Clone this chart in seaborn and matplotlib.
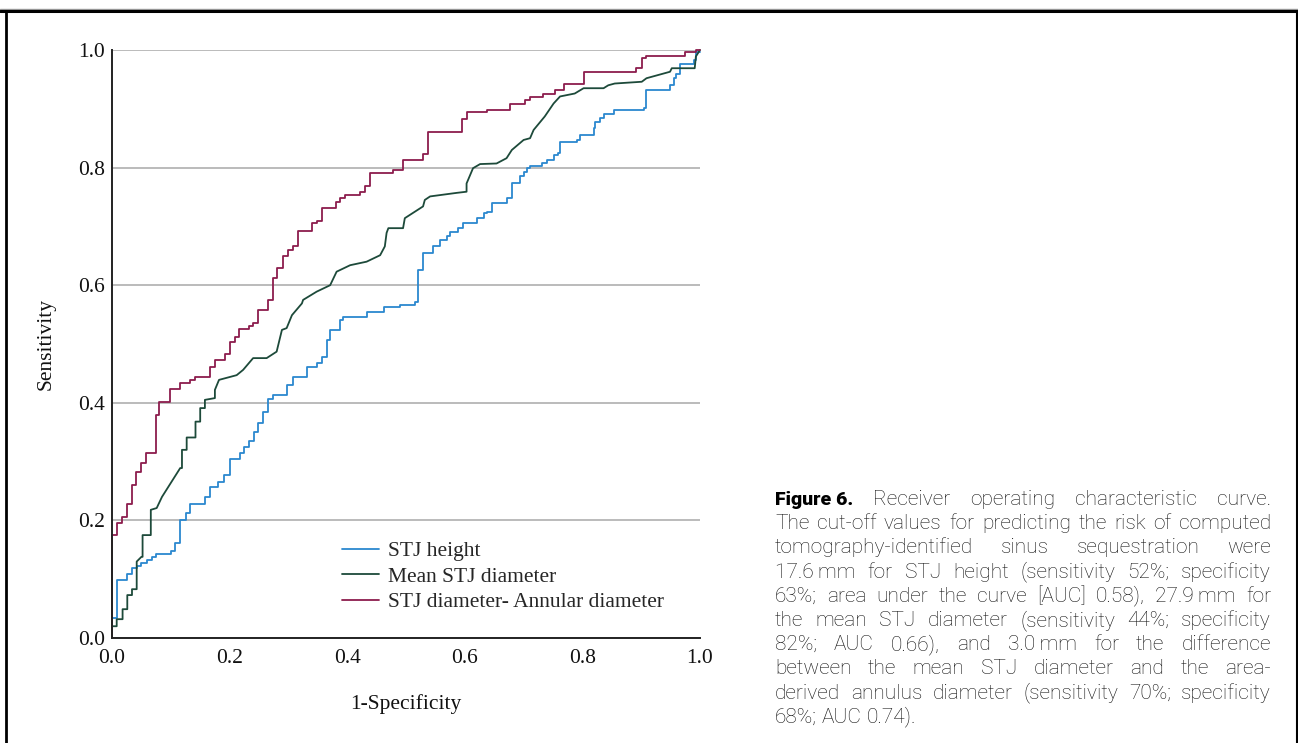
import pandas as pd
import numpy as np
import matplotlib
matplotlib.use('Agg')
import matplotlib.pyplot as plt
from matplotlib.lines import Line2D
import seaborn as sns

# ROC data
# STJ height: fpr where the curve steps up, tpr after each step
height_fpr = [0, .008, .025, .034, .042, .050, .059, .068, .075, .100, .107, .116, .126, .133,
              .158, .166, .181, .190, .200, .217, .224, .233, .241, .249, .257, .265, .274,
              .297, .307, .331, .348, .357, .365, .371, .388, .393, .433, .463, .489, .515,
              .521, .529, .546, .558, .569, .575, .589, .597, .620, .632, .637, .646, .671,
              .680, .694, .700, .705, .711, .731, .739, .751, .759, .762, .790, .796, .819,
              .821, .830, .836, .853, .904, .909, .949, .955, .960, .966, .989, .994]
height_tpr = [.034, .099, .109, .119, .122, .128, .133, .138, .143, .148, .161, .201, .212, .228,
              .240, .256, .266, .277, .304, .315, .325, .335, .351, .365, .385, .406, .413,
              .430, .444, .461, .467, .478, .507, .524, .541, .546, .555, .563, .567, .572,
              .626, .654, .666, .677, .683, .691, .697, .705, .714, .722, .725, .739, .748,
              .773, .785, .793, .799, .803, .807, .813, .821, .824, .844, .847, .855, .867,
              .878, .884, .892, .898, .901, .932, .940, .952, .960, .977, .983, .997]

# Mean STJ diameter: curve vertices (has sloped parts)
mean_fpr = [0, 0, .008, .008, .018, .018, .026, .026, .034, .034, .042, .042, .050, .052, .052,
            .066, .066, .076, .085, .116, .119, .119, .127, .127, .142, .142, .150, .150,
            .158, .158, .175, .175, .182, .212, .223, .240, .263, .280, .289, .297, .306,
            .323, .325, .348, .371, .382, .405, .433, .456, .464, .467, .470, .495, .498,
            .529, .532, .541, .586, .603, .603, .614, .626, .654, .671, .680, .700, .711,
            .717, .736, .751, .762, .787, .802, .836, .844, .855, .901, .909, .949, .952,
            .991, .993, 1.0]
mean_tpr = [0, .020, .020, .032, .032, .049, .049, .073, .073, .083, .083, .130, .138, .138, .175,
            .175, .218, .221, .240, .289, .289, .320, .320, .341, .341, .368, .368, .391,
            .391, .405, .408, .422, .439, .447, .456, .476, .476, .487, .524, .527, .549,
            .569, .575, .589, .600, .623, .634, .640, .651, .666, .689, .697, .697, .714,
            .734, .745, .751, .757, .759, .773, .799, .806, .807, .816, .830, .847, .850,
            .864, .887, .909, .921, .926, .935, .935, .940, .943, .946, .952, .963, .969,
            .969, .989, 1.0]

# STJ diameter - annular diameter: step positions and tpr after each step
diff_fpr = [0, .008, .017, .025, .034, .041, .049, .058, .075, .080, .099, .116, .133, .142,
            .167, .175, .192, .200, .209, .216, .233, .240, .249, .266, .273, .280, .290,
            .299, .307, .316, .340, .348, .357, .381, .388, .396, .422, .430, .439, .478,
            .495, .529, .537, .595, .603, .637, .677, .702, .711, .733, .753, .769, .803,
            .892, .902, .909, .974, .994]
diff_tpr = [.175, .196, .206, .228, .260, .283, .298, .315, .379, .402, .423, .434, .439, .444,
            .461, .472, .483, .504, .512, .525, .531, .536, .558, .575, .612, .629, .649,
            .660, .667, .693, .706, .710, .731, .742, .749, .753, .759, .769, .790, .796,
            .813, .823, .861, .883, .894, .898, .909, .915, .920, .926, .932, .942, .963,
            .969, .986, .990, .996, 1.0]

curve_names = ['STJ height', 'Mean STJ diameter', 'STJ diameter- Annular diameter']
curve_colors = ['#2b88cf', '#1d4a3a', '#8c1d4d']
ticks = [0.0, 0.2, 0.4, 0.6, 0.8, 1.0]

caption_lines = [
    'Figure~6. Receiver operating characteristic curve.',
    'The cut-off values for predicting the risk of computed',
    'tomography-identified sinus sequestration were',
    '17.6\u2009mm for STJ height (sensitivity 52%; specificity',
    '63%; area under the curve [AUC] 0.58), 27.9\u2009mm for',
    'the mean STJ diameter (sensitivity 44%; specificity',
    '82%; AUC 0.66), and 3.0\u2009mm for the difference',
    'between the mean STJ diameter and the area-',
    'derived annulus diameter (sensitivity 70%; specificity',
    '68%; AUC 0.74).',
]


def stairs(xs, ys):
    # turn step points into a staircase polyline from (0,0) to (1,1)
    px, py = [0.0], [0.0]
    for x, y in zip(xs, ys):
        px += [x, x]
        py += [py[-1], y]
    px.append(1.0)
    py.append(py[-1])
    return px, py


hx, hy = stairs(height_fpr, height_tpr)
dx, dy = stairs(diff_fpr, diff_tpr)
df = pd.concat([
    pd.DataFrame({'fpr': hx, 'tpr': hy, 'curve': curve_names[0]}),
    pd.DataFrame({'fpr': mean_fpr, 'tpr': mean_tpr, 'curve': curve_names[1]}),
    pd.DataFrame({'fpr': dx, 'tpr': dy, 'curve': curve_names[2]}),
], ignore_index=True)

sns.set_theme(style='white')
plt.rcParams['font.family'] = ['Liberation Serif', 'DejaVu Serif']

W, H = 1298, 743
fig = plt.figure(figsize=(W / 100, H / 100), dpi=100)
ax = fig.add_axes([112 / W, 105 / H, 588 / W, 588 / H])

sns.lineplot(data=df, x='fpr', y='tpr', hue='curve', hue_order=curve_names,
             palette=curve_colors, sort=False, estimator=None, linewidth=1.3,
             clip_on=False, ax=ax)

ax.set_xlim(0, 1)
ax.set_ylim(0, 1)
ax.set_xticks(ticks)
ax.set_yticks(ticks)
ax.set_xticklabels([f'{t:.1f}' for t in ticks], fontsize=15.5)
ax.set_yticklabels([f'{t:.1f}' for t in ticks], fontsize=15.5)
ax.tick_params(axis='x', length=0, pad=8, colors='#111111')
ax.tick_params(axis='y', length=0, pad=5, colors='#111111')
ax.yaxis.grid(True, color='#b5b5b5', linewidth=1.3)
ax.xaxis.grid(False)
ax.set_axisbelow(True)
for s in ['top', 'right']:
    ax.spines[s].set_visible(False)
for s in ['left', 'bottom']:
    ax.spines[s].set_color('#222222')
    ax.spines[s].set_linewidth(1.4)

ax.set_xlabel('1-Specificity', fontsize=15.5, color='#111111')
ax.set_ylabel('Sensitivity', fontsize=15.5, color='#111111')
ax.xaxis.set_label_coords(0.5, (638 - 704) / 588)
ax.xaxis.label.set_va('center')
ax.yaxis.set_label_coords((46 - 112) / 588, 0.5)
ax.yaxis.label.set_va('center')

handles, labels = ax.get_legend_handles_labels()
ax.legend(handles, labels, loc='center left', bbox_to_anchor=((341.7 - 112) / 588, (638 - 576.7) / 588),
          frameon=False, fontsize=15.5, handlelength=1.75, handletextpad=0.4,
          labelspacing=0.26, borderpad=0, borderaxespad=0)

# figure frame
fig.add_artist(Line2D([0, 1], [1 - 8.5 / H, 1 - 8.5 / H], transform=fig.transFigure, color='#9a9a9a', lw=1.0))
fig.add_artist(Line2D([0, 1], [1 - 10.5 / H, 1 - 10.5 / H], transform=fig.transFigure, color='black', lw=2.2))
fig.add_artist(Line2D([5.5 / W, 5.5 / W], [-0.01, 1 - 10.5 / H], transform=fig.transFigure, color='black', lw=2.0))
fig.add_artist(Line2D([1296.5 / W, 1296.5 / W], [-0.01, 1 - 10.5 / H], transform=fig.transFigure, color='black', lw=1.5))

# justified caption
renderer = fig.canvas.get_renderer()
left_px, right_px = 775, 1271
base0, step = 505, 24.2
cap_font = ['Roboto', 'DejaVu Sans']
for i, line in enumerate(caption_lines):
    y = 1 - (base0 + i * step) / H
    words = line.split(' ')
    texts = []
    for w in words:
        word = w.replace('~', ' ')
        if word == 'Figure 6.':
            t = fig.text(0, y, word, family=cap_font, fontweight='heavy',
                         fontsize=14, color='black', va='baseline')
        else:
            t = fig.text(0, y, word, family=cap_font, fontweight='light',
                         fontsize=15, color='#111111', va='baseline')
        texts.append(t)
    widths = [t.get_window_extent(renderer).width for t in texts]
    if i == len(caption_lines) - 1:
        gap = 5.0
    else:
        gap = (right_px - left_px - sum(widths)) / (len(words) - 1)
    x = left_px
    for t, w in zip(texts, widths):
        t.set_x(x / W)
        x += w + gap

fig.savefig('out.png', dpi=100)
